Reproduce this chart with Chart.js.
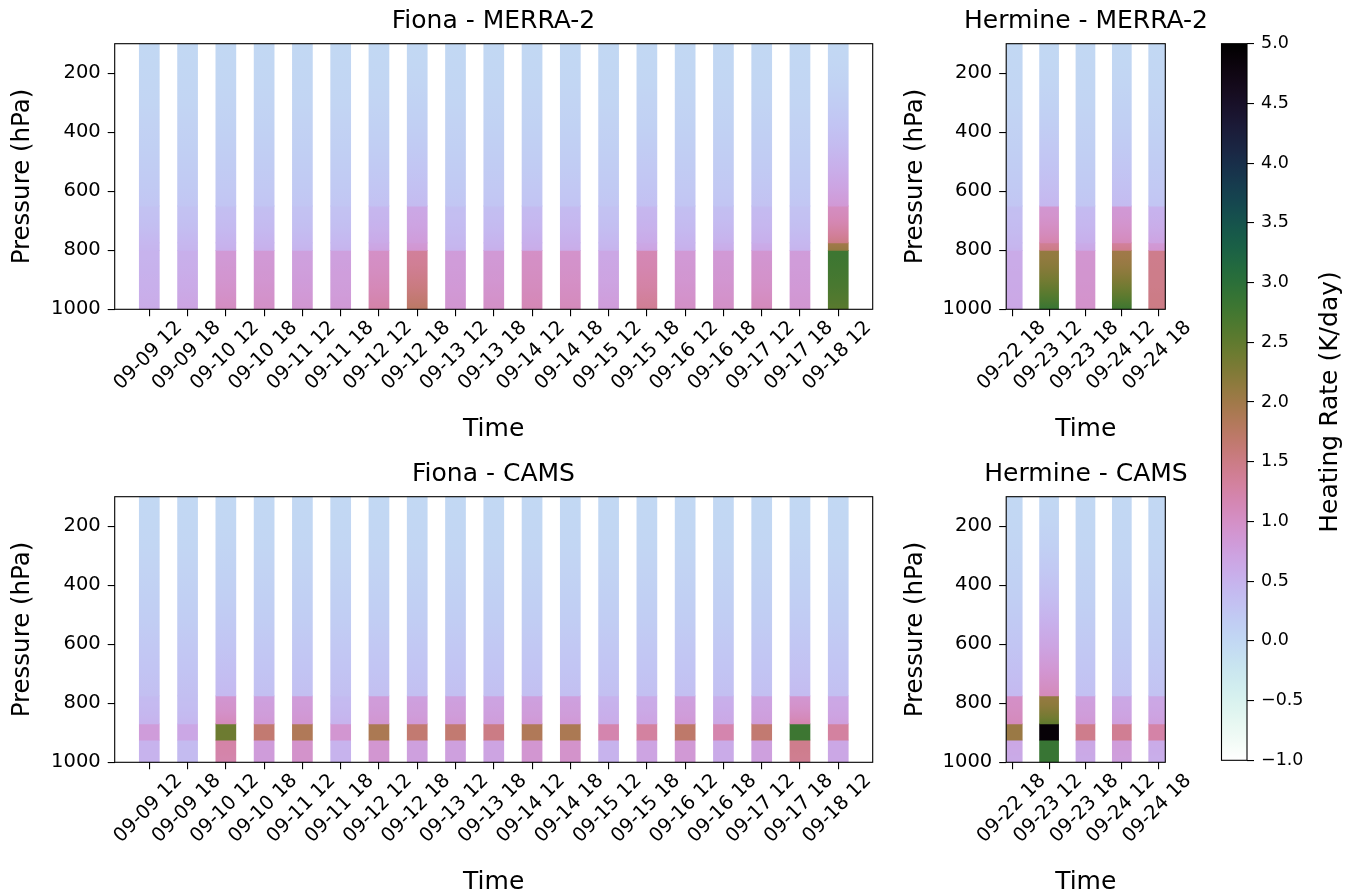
<!DOCTYPE html>
<html>
<head>
<meta charset="utf-8">
<script src="https://cdn.jsdelivr.net/npm/chart.js@4.4.0/dist/chart.umd.min.js"></script>
<style>
  body { margin: 0; background: #fff; width: 1352px; height: 893px; overflow: hidden; position: relative; }
  canvas { position: absolute; }
</style>
</head>
<body>
<canvas id="fionaMerra" width="987" height="450" style="left:0;top:0"></canvas>
<canvas id="hermineMerra" width="392" height="450" style="left:890px;top:0"></canvas>
<canvas id="fionaCams" width="987" height="450" style="left:0;top:453px"></canvas>
<canvas id="hermineCams" width="392" height="450" style="left:890px;top:453px"></canvas>
<canvas id="colorbar" width="157" height="893" style="left:1195px;top:0"></canvas>
<script>
// time labels
const fionaTimes = ['09-09 12', '09-09 18', '09-10 12', '09-10 18', '09-11 12', '09-11 18', '09-12 12',
  '09-12 18', '09-13 12', '09-13 18', '09-14 12', '09-14 18', '09-15 12', '09-15 18', '09-16 12',
  '09-16 18', '09-17 12', '09-17 18', '09-18 12'];
const hermineTimes = ['09-22 18', '09-23 12', '09-23 18', '09-24 12', '09-24 18'];

const pressureTicks = [200, 400, 600, 800, 1000];
const colorbarTicks = [-1, -0.5, 0, 0.5, 1, 1.5, 2, 2.5, 3, 3.5, 4, 4.5, 5];
const rateMin = -1;
const rateMax = 5;

// layer edges (hPa)
const merraEdges = [100, 650, 775, 800, 1000];
const camsEdges = [100, 775, 870, 925, 1000];

// heating rate (K/day) at [top, bottom] of each layer, one pair per time
const fionaMerraA = [[0, 0.25], [0, 0.25], [0, 0.27], [0, 0.27], [0, 0.25], [0, 0.25], [0, 0.32], [0, 0.4], [0, 0.25], [0, 0.27],
  [0, 0.28], [0, 0.28], [0, 0.25], [0, 0.33], [0, 0.27], [0, 0.27], [0, 0.3], [0, 0.25], [0, 0.85]];
const fionaMerraB = [[0.3, 0.45], [0.3, 0.45], [0.35, 0.5], [0.35, 0.5], [0.3, 0.45], [0.3, 0.45], [0.45, 0.62], [0.65, 0.8],
  [0.35, 0.45], [0.35, 0.5], [0.4, 0.55], [0.4, 0.55], [0.3, 0.45], [0.45, 0.62], [0.35, 0.5], [0.35, 0.52], [0.4, 0.55],
  [0.3, 0.45], [1.05, 1.5]];
const fionaMerraC = [[0.45, 0.48], [0.45, 0.48], [0.5, 0.55], [0.5, 0.55], [0.45, 0.5], [0.45, 0.5], [0.65, 0.7], [0.85, 0.9],
  [0.45, 0.5], [0.5, 0.55], [0.55, 0.6], [0.55, 0.6], [0.45, 0.5], [0.65, 0.7], [0.5, 0.55], [0.55, 0.6], [0.6, 0.65],
  [0.45, 0.5], [2.0, 2.1]];
const fionaMerraD = [[0.5, 0.6], [0.55, 0.7], [0.85, 1.05], [0.85, 1.0], [0.75, 0.9], [0.75, 0.85], [1.0, 1.25], [1.35, 1.75],
  [0.8, 0.9], [0.85, 1.0], [1.0, 1.15], [0.95, 1.1], [0.65, 0.8], [1.15, 1.4], [0.85, 1.0], [0.85, 1.0], [0.9, 1.1],
  [0.8, 0.9], [2.8, 2.55]];

const hermineMerraA = [[0, 0.25], [0, 0.45], [0, 0.25], [0, 0.4], [0, 0.27]];
const hermineMerraB = [[0.35, 0.45], [0.9, 1.2], [0.4, 0.55], [0.85, 1.1], [0.5, 0.7]];
const hermineMerraC = [[0.45, 0.5], [1.4, 1.5], [0.6, 0.65], [1.35, 1.45], [0.85, 0.9]];
const hermineMerraD = [[0.6, 0.65], [2.1, 2.85], [0.9, 0.95], [2.0, 2.8], [1.45, 1.5]];

const fionaCamsA = [[0, 0.35], [0, 0.35], [0, 0.42], [0, 0.35], [0, 0.35], [0, 0.35], [0, 0.35], [0, 0.35], [0, 0.35], [0, 0.35],
  [0, 0.35], [0, 0.35], [0, 0.35], [0, 0.35], [0, 0.35], [0, 0.35], [0, 0.35], [0, 0.4], [0, 0.35]];
const fionaCamsB = [[0.4, 0.5], [0.35, 0.45], [0.9, 1.1], [0.75, 0.85], [0.8, 0.9], [0.4, 0.5], [0.8, 0.9], [0.75, 0.85],
  [0.75, 0.85], [0.7, 0.8], [0.75, 0.85], [0.75, 0.85], [0.5, 0.6], [0.6, 0.7], [0.75, 0.85], [0.55, 0.65], [0.7, 0.8],
  [0.9, 1.2], [0.65, 0.75]];
const fionaCamsC = [[0.8, 0.8], [0.65, 0.65], [2.4, 2.4], [1.65, 1.65], [1.85, 1.85], [0.9, 0.9], [1.9, 1.9], [1.65, 1.65],
  [1.65, 1.65], [1.5, 1.5], [1.85, 1.85], [1.9, 1.9], [1.2, 1.2], [1.3, 1.3], [1.7, 1.7], [1.2, 1.2], [1.65, 1.65],
  [2.8, 2.8], [1.3, 1.3]];
const fionaCamsD = [[0.5, 0.5], [0.4, 0.4], [1.25, 1.2], [0.8, 0.8], [0.95, 0.95], [0.5, 0.5], [0.9, 0.9], [0.75, 0.75],
  [0.75, 0.75], [0.7, 0.7], [0.9, 0.9], [0.95, 0.95], [0.5, 0.5], [0.7, 0.7], [0.85, 0.85], [0.6, 0.6], [0.75, 0.75],
  [1.45, 1.4], [0.65, 0.65]];

const hermineCamsA = [[0, 0.42], [0, 1.1], [0, 0.33], [0, 0.3], [0, 0.3]];
const hermineCamsB = [[1.0, 1.1], [2.1, 2.5], [0.75, 0.85], [0.65, 0.75], [0.65, 0.75]];
const hermineCamsC = [[2.05, 2.05], [4.9, 4.9], [1.45, 1.45], [1.4, 1.4], [1.25, 1.25]];
const hermineCamsD = [[0.65, 0.6], [2.85, 2.85], [0.65, 0.6], [0.8, 0.75], [0.6, 0.55]];

Chart.defaults.font.family = "'DejaVu Sans', sans-serif";
Chart.defaults.color = '#000';

// reversed matplotlib cubehelix
function cubehelixR(v) {
  let x = 1 - (v - rateMin) / (rateMax - rateMin);
  x = Math.min(1, Math.max(0, x));
  const a = x * (1 - x) / 2;
  const phi = 2 * Math.PI * (0.5 / 3 - 1.5 * x);
  const c = Math.cos(phi), s = Math.sin(phi);
  const ch = (p0, p1) => Math.round(255 * Math.min(1, Math.max(0, x + a * (p0 * c + p1 * s))));
  return 'rgb(' + ch(-0.14861, 1.78277) + ',' + ch(-0.29227, -0.90649) + ',' + ch(1.97294, 0) + ')';
}

// vertical shading inside one layer, eased so the colour changes mostly near its bottom
function layerFill(ctx, top, bottom, vals) {
  const chart = ctx.chart;
  if (!chart.chartArea || ctx.dataIndex === undefined) return 'rgba(0,0,0,0)';
  const y = chart.scales.y;
  const pair = vals[ctx.dataIndex];
  const g = chart.ctx.createLinearGradient(0, y.getPixelForValue(top), 0, y.getPixelForValue(bottom));
  for (let k = 0; k <= 8; k++) {
    const t = Math.pow(k / 8, 1.6);
    g.addColorStop(k / 8, cubehelixR(pair[0] + (pair[1] - pair[0]) * t));
  }
  return g;
}

function makeDatasets(edges, layers) {
  return layers.map((vals, li) => ({
    data: vals.map((_, i) => ({ x: i, y: [edges[li], edges[li + 1]] })),
    backgroundColor: ctx => layerFill(ctx, edges[li], edges[li + 1], vals),
    borderWidth: 0,
    inflateAmount: 0.4,
    grouped: false,
    barPercentage: 0.52,
    categoryPercentage: 1,
    clip: 0
  }));
}

const framePlugin = {
  id: 'frame',
  afterDraw(chart) {
    const { ctx, chartArea: a } = chart;
    ctx.save();
    ctx.strokeStyle = '#000';
    ctx.lineWidth = 1.1;
    ctx.strokeRect(a.left, a.top, a.right - a.left, a.bottom - a.top);
    ctx.restore();
  }
};

function panelChart(id, title, labels, edges, layers, g) {
  new Chart(document.getElementById(id), {
    type: 'bar',
    data: { datasets: makeDatasets(edges, layers) },
    options: {
      responsive: false,
      animation: false,
      plugins: {
        legend: { display: false },
        tooltip: { enabled: false },
        title: {
          display: true, text: title, color: '#000',
          font: { size: 25, weight: 'normal' }, padding: { top: 6.5, bottom: 7.2 }
        }
      },
      scales: {
        x: {
          type: 'linear', min: g.xMin, max: g.xMax, offset: false,
          afterBuildTicks: s => { s.ticks = labels.map((_, i) => ({ value: i })); },
          afterFit: s => { s.height = 140.7; },
          ticks: {
            autoSkip: false, minRotation: 45, maxRotation: 45, font: { size: 19.5 },
            labelOffset: 30, padding: 0, callback: v => labels[v]
          },
          grid: { display: true, offset: false, drawOnChartArea: false, tickLength: 7, color: '#000', lineWidth: 1.1 },
          border: { display: false },
          title: { display: true, text: 'Time', font: { size: 25 }, padding: { top: 0, bottom: 6 } }
        },
        y: {
          type: 'linear', reverse: true, min: 100, max: 1000,
          afterBuildTicks: s => { s.ticks = pressureTicks.map(v => ({ value: v })); },
          afterFit: s => { s.width = g.yAxisW; },
          ticks: { font: { size: 19.5 }, padding: 7, callback: v => String(v) },
          grid: { display: true, drawOnChartArea: false, tickLength: 7, color: '#000', lineWidth: 1.1 },
          border: { display: false },
          title: { display: true, text: 'Pressure (hPa)', font: { size: 24.5 }, padding: { top: g.yTitlePad, bottom: 0 } }
        },
        // empty spacer on the right so the title sits centred over the plot area
        spacer: {
          type: 'linear', position: 'right', display: true,
          ticks: { display: false }, grid: { display: false }, border: { display: false },
          afterFit: s => { s.width = g.right; }
        }
      }
    },
    plugins: [framePlugin]
  });
}

const fionaGeom = { right: 114.3, yAxisW: 114.7, xMin: -0.904, xMax: 18.9, yTitlePad: 8 };
const hermineGeom = { right: 116.7, yAxisW: 116.2, xMin: -0.179, xMax: 4.195, yTitlePad: 10.5 };

panelChart('fionaMerra', 'Fiona - MERRA-2', fionaTimes, merraEdges,
  [fionaMerraA, fionaMerraB, fionaMerraC, fionaMerraD], fionaGeom);
panelChart('hermineMerra', 'Hermine - MERRA-2', hermineTimes, merraEdges,
  [hermineMerraA, hermineMerraB, hermineMerraC, hermineMerraD], hermineGeom);
panelChart('fionaCams', 'Fiona - CAMS', fionaTimes, camsEdges,
  [fionaCamsA, fionaCamsB, fionaCamsC, fionaCamsD], fionaGeom);
panelChart('hermineCams', 'Hermine - CAMS', hermineTimes, camsEdges,
  [hermineCamsA, hermineCamsB, hermineCamsC, hermineCamsD], hermineGeom);

// colorbar
const colorbarLabel = {
  id: 'cbLabel',
  afterDraw(chart) {
    const ctx = chart.ctx;
    ctx.save();
    ctx.translate(135, (chart.chartArea.top + chart.chartArea.bottom) / 2);
    ctx.rotate(-Math.PI / 2);
    ctx.font = "25px 'DejaVu Sans', sans-serif";
    ctx.fillStyle = '#000';
    ctx.textAlign = 'center';
    ctx.textBaseline = 'middle';
    ctx.fillText('Heating Rate (K/day)', 0, 0);
    ctx.restore();
  }
};

new Chart(document.getElementById('colorbar'), {
  type: 'bar',
  data: {
    labels: [''],
    datasets: [{
      data: [[rateMin, rateMax]],
      borderWidth: 0,
      barPercentage: 1,
      categoryPercentage: 1,
      backgroundColor: ctx => {
        const chart = ctx.chart;
        if (!chart.chartArea) return 'rgba(0,0,0,0)';
        const y = chart.scales.y;
        const grad = chart.ctx.createLinearGradient(0, y.getPixelForValue(rateMin), 0, y.getPixelForValue(rateMax));
        for (let k = 0; k <= 60; k++) {
          grad.addColorStop(k / 60, cubehelixR(rateMin + (rateMax - rateMin) * k / 60));
        }
        return grad;
      }
    }]
  },
  options: {
    responsive: false,
    animation: false,
    layout: { padding: { left: 26.5, right: 0, top: 43.7, bottom: 132.7 } },
    plugins: { legend: { display: false }, tooltip: { enabled: false } },
    scales: {
      x: { display: false },
      y: {
        position: 'right', min: rateMin, max: rateMax,
        afterBuildTicks: s => { s.ticks = colorbarTicks.map(v => ({ value: v })); },
        afterFit: s => { s.width = 105; },
        ticks: { font: { size: 17.5 }, padding: 7, callback: v => v.toFixed(1).replace('-', '\u2212') },
        grid: { display: true, drawOnChartArea: false, tickLength: 7, color: '#000', lineWidth: 1.1 },
        border: { display: false }
      }
    }
  },
  plugins: [framePlugin, colorbarLabel]
});
</script>
</body>
</html>
